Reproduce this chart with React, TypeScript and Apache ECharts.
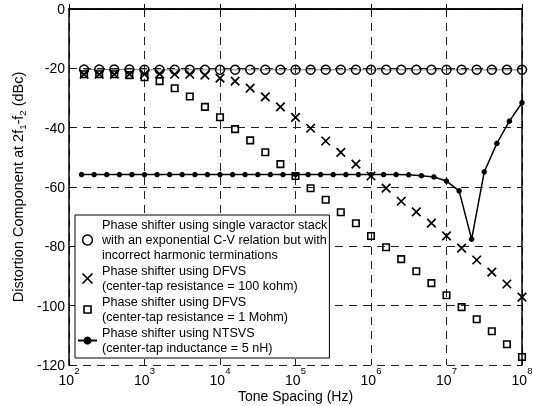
import React, { useEffect, useRef } from 'react';
import * as echarts from 'echarts';

// Tone spacing exponents (log10 Hz) of the marker series
const markerExps = [2.2, 2.4, 2.6, 2.8, 3.0, 3.2, 3.4, 3.6, 3.8, 4.0, 4.2, 4.4, 4.6, 4.8, 5.0, 5.2, 5.4, 5.6, 5.8, 6.0, 6.2, 6.4, 6.6, 6.8, 7.0, 7.2, 7.4, 7.6, 7.8, 8.0];
const singleStackValues = [-20.4, -20.4, -20.4, -20.4, -20.5, -20.5, -20.5, -20.5, -20.5, -20.5, -20.5, -20.5, -20.5, -20.5, -20.5, -20.5, -20.5, -20.5, -20.5, -20.5, -20.5, -20.5, -20.5, -20.5, -20.5, -20.5, -20.5, -20.5, -20.5, -20.5];
const dfvs100kValues = [-22, -22, -22, -22, -22, -21.9, -22, -22, -22.3, -23.3, -24.3, -26.7, -29.6, -33, -36.5, -40.2, -44.5, -48.3, -52.3, -56.3, -60.4, -64.8, -68.4, -72.2, -76.5, -80.6, -84.6, -88.7, -92.7, -97.1];
const dfvs1MValues = [-22, -22, -22, -22.3, -23, -24.3, -26.7, -29.5, -33, -36.5, -40.5, -44.3, -48.3, -52.3, -56.3, -60.4, -64.3, -68.5, -72.2, -76.5, -80.3, -84.3, -88.4, -92.4, -96.5, -100.5, -104.6, -108.6, -113, -117.3];

// NTSVS series exponents and values
const ntsvsExps = [2.167, 2.333, 2.5, 2.667, 2.833, 3.0, 3.167, 3.333, 3.5, 3.667, 3.833, 4.0, 4.167, 4.333, 4.5, 4.667, 4.833, 5.0, 5.167, 5.333, 5.5, 5.667, 5.833, 6.0, 6.167, 6.333, 6.5, 6.667, 6.833, 7.0, 7.167, 7.333, 7.5, 7.667, 7.833, 8.0];
const ntsvsValues = [-55.8, -55.8, -55.8, -55.8, -55.8, -55.8, -55.8, -55.8, -55.8, -55.8, -55.8, -55.8, -55.8, -55.8, -55.8, -55.8, -55.8, -55.8, -55.8, -55.8, -55.8, -55.8, -55.8, -55.8, -55.8, -55.8, -55.9, -56.2, -56.6, -58.0, -61.3, -77.6, -54.9, -45.3, -37.8, -31.6];

const legendTexts: Record<string, string> = {
  single: 'Phase shifter using single varactor stack\nwith an exponential C-V relation but with\nincorrect harmonic terminations',
  dfvs100k: 'Phase shifter using DFVS\n(center-tap resistance = 100 kohm)',
  dfvs1M: 'Phase shifter using DFVS\n(center-tap resistance = 1 Mohm)',
  ntsvs: 'Phase shifter using NTSVS\n(center-tap inductance = 5 nH)',
};

const FONT = 'Liberation Sans, Arial, sans-serif';
const X_PATH = 'path://M0,0L10,10M0,10L10,0';
const SQUARE_ICON = 'path://M0,0M10,10M1.5,1.5h7v7h-7z';

const toPairs = (exps: number[], vals: number[]) => exps.map((e, i) => [Math.pow(10, e), vals[i]]);

export default function App() {
  const ref = useRef<HTMLDivElement>(null);
  useEffect(() => {
    if (!ref.current) return;
    const chart = echarts.init(ref.current, null, { renderer: 'svg' });
    const hollow = { color: 'transparent', borderColor: '#000', borderWidth: 1.5, opacity: 1 };
    const crossStyle = { color: 'transparent', borderColor: '#000', borderWidth: 1.7, opacity: 1 };
    const squareStyle = { color: 'transparent', borderColor: '#000', borderWidth: 1.6, opacity: 1 };
    const gridLine = { show: true, lineStyle: { color: '#222', width: 1, type: [8, 6] as any } };
    const axisLine = { show: true, lineStyle: { color: '#000', width: 1.5 } };
    const axisTick = { show: true, inside: true, length: 5, lineStyle: { color: '#000', width: 1 } };
    chart.setOption({
      animation: false,
      textStyle: { fontFamily: FONT },
      grid: { left: 69, right: 11, top: 9, bottom: 41, containLabel: false, outerBoundsMode: 'none' },
      legend: {
        orient: 'vertical',
        left: 75,
        top: 215,
        padding: [2.5, 2, 2.5, 2],
        itemGap: 1,
        itemWidth: 19,
        itemHeight: 10,
        backgroundColor: '#fff',
        borderColor: '#000',
        borderWidth: 1,
        borderRadius: 0,
        z: 10,
        textStyle: { fontSize: 12.6, lineHeight: 15, color: '#000', fontFamily: FONT },
        formatter: (name: string) => legendTexts[name],
        data: [
          { name: 'single', icon: 'circle', itemStyle: hollow },
          { name: 'dfvs100k', itemStyle: crossStyle },
          { name: 'dfvs1M', icon: SQUARE_ICON, itemStyle: squareStyle },
          { name: 'ntsvs' },
        ],
      },
      xAxis: [
        {
          type: 'log',
          logBase: 10,
          min: 100,
          max: 1e8,
          name: 'Tone Spacing (Hz)',
          nameLocation: 'middle',
          nameGap: 23.5,
          nameMoveOverlap: false,
          nameTextStyle: { fontSize: 14, color: '#000', fontFamily: FONT },
          axisLine,
          axisTick,
          minorTick: { show: false },
          splitLine: gridLine,
          axisLabel: {
            margin: 0,
            color: '#000',
            formatter: (v: number) => `{b|10}{s|${Math.round(Math.log10(v))}}`,
            rich: {
              b: { fontSize: 14, lineHeight: 30, color: '#000', fontFamily: FONT },
              s: { fontSize: 9.5, lineHeight: 12, verticalAlign: 'top', color: '#000', fontFamily: FONT },
            },
          },
        },
        {
          type: 'log',
          logBase: 10,
          min: 100,
          max: 1e8,
          position: 'top',
          axisLine,
          axisTick,
          axisLabel: { show: false },
          splitLine: { show: false },
        },
      ],
      yAxis: [
        {
          type: 'value',
          min: -120,
          max: 0,
          interval: 20,
          name: 'Distortion Component at 2f{sub|1}-f{sub|2} (dBc)',
          nameLocation: 'middle',
          nameRotate: 90,
          nameGap: 42,
          nameMoveOverlap: false,
          nameTextStyle: {
            fontSize: 14.5,
            lineHeight: 18,
            color: '#000',
            fontFamily: FONT,
            rich: {
              sub: { fontSize: 9.5, lineHeight: 10, verticalAlign: 'bottom', color: '#000', fontFamily: FONT },
            },
          },
          axisLine,
          axisTick,
          splitLine: gridLine,
          axisLabel: { fontSize: 14, color: '#000', margin: 4, fontFamily: FONT },
        },
        {
          type: 'value',
          min: -120,
          max: 0,
          interval: 20,
          position: 'right',
          axisLine,
          axisTick,
          axisLabel: { show: false },
          splitLine: { show: false },
        },
      ],
      series: [
        {
          name: 'single',
          type: 'line',
          data: toPairs(markerExps, singleStackValues),
          symbol: 'circle',
          symbolSize: 9,
          showAllSymbol: true,
          itemStyle: hollow,
          lineStyle: { color: '#555', width: 0.8 },
          z: 3,
        },
        {
          name: 'dfvs100k',
          type: 'scatter',
          data: toPairs(markerExps, dfvs100kValues),
          symbol: X_PATH,
          symbolSize: 8.5,
          itemStyle: crossStyle,
          z: 4,
        },
        {
          name: 'dfvs1M',
          type: 'scatter',
          data: toPairs(markerExps, dfvs1MValues),
          symbol: 'rect',
          symbolSize: 6.5,
          itemStyle: squareStyle,
          z: 5,
        },
        {
          name: 'ntsvs',
          type: 'line',
          data: toPairs(ntsvsExps, ntsvsValues),
          symbol: 'circle',
          symbolSize: 5.5,
          showAllSymbol: true,
          itemStyle: { color: '#000' },
          lineStyle: { color: '#000', width: 1.5 },
          z: 6,
        },
      ],
    });
    return () => chart.dispose();
  }, []);
  return <div ref={ref} style={{ position: 'fixed', left: 0, top: 0, width: 533, height: 406 }} />;
}
